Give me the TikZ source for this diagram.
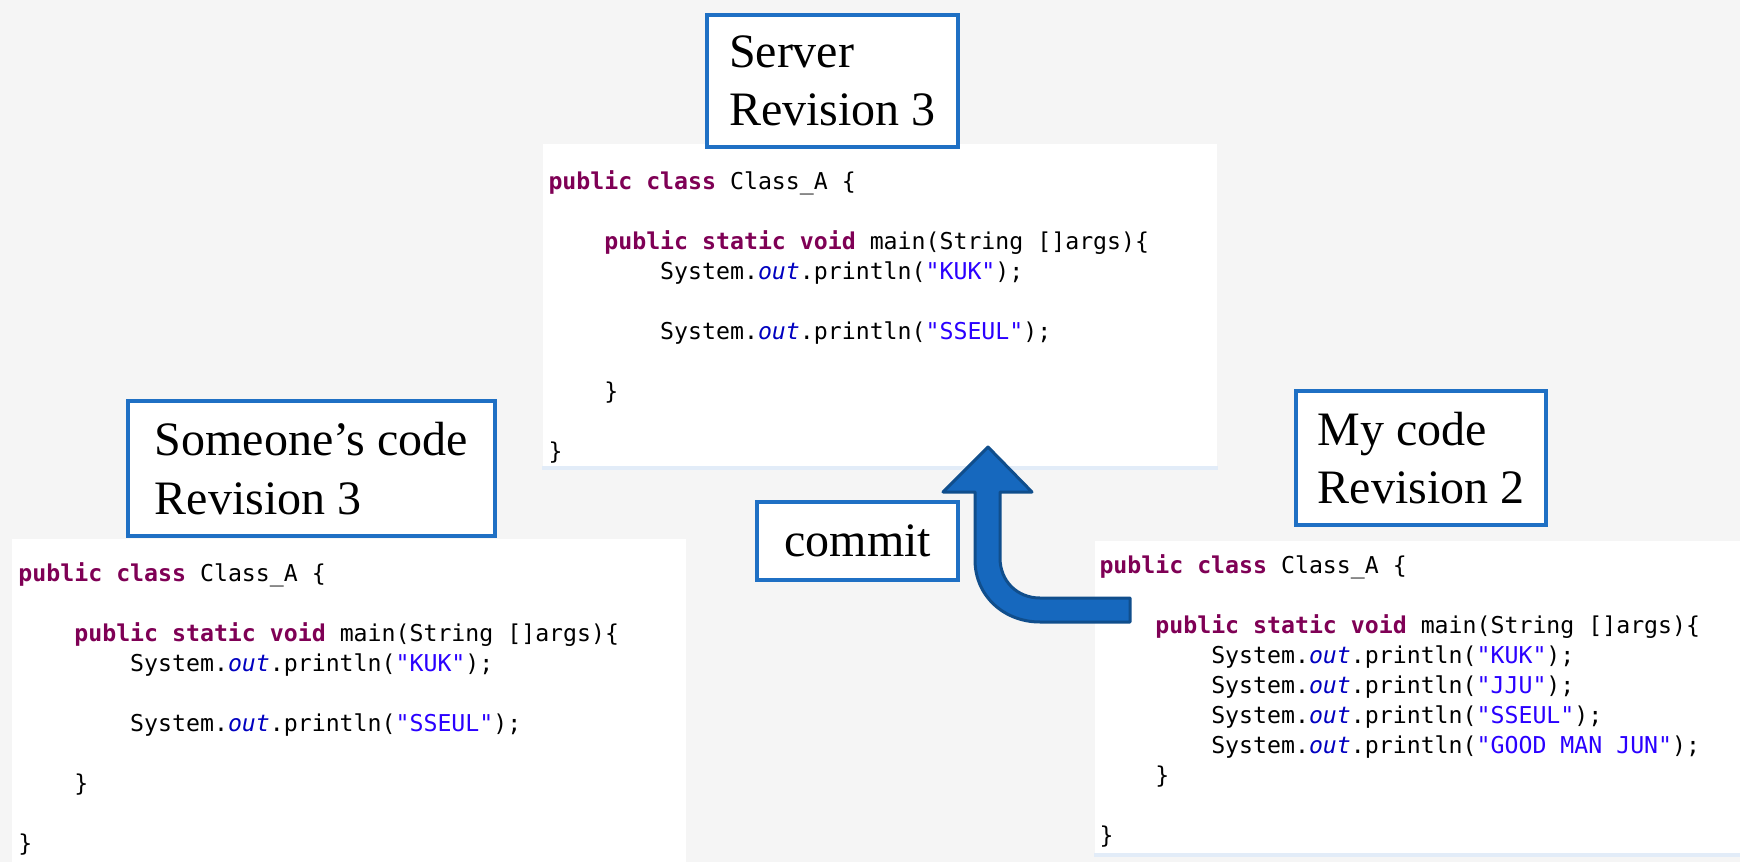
\documentclass[tikz,border=0pt]{standalone}
\usepackage{fontspec}
\newfontfamily\codefont{DejaVu Sans Mono}
\newfontfamily\labelfont{Liberation Serif}
\tikzset{every picture/.style={line width=0.75pt}}

\definecolor{boxblue}{RGB}{31,112,196}
\definecolor{arrowfill}{RGB}{22,104,190}
\definecolor{arrowedge}{RGB}{16,78,140}
\definecolor{kwpurple}{RGB}{127,0,85}
\definecolor{strblue}{RGB}{42,0,255}
\definecolor{fieldblue}{RGB}{0,0,192}
\definecolor{bggray}{RGB}{245,245,245}
\definecolor{rulelight}{RGB}{226,236,248}

\newcommand{\jkw}[1]{\textcolor{kwpurple}{\bfseries #1}}
\newcommand{\jstr}[1]{\textcolor{strblue}{#1}}
\newcommand{\jout}{\textcolor{fieldblue}{\itshape out}}
\newcommand{\jind}{\hspace*{41.9pt}}

\tikzset{
  labelbox/.style={draw=boxblue, line width=3pt, fill=white, align=left, inner xsep=11pt, font=\labelfont\fontsize{36}{44}\selectfont},
  panel/.style={fill=white, inner sep=0pt, anchor=north west},
  codetext/.style={anchor=north west, inner sep=0pt, align=left, font=\codefont\fontsize{17.4}{22.5}\selectfont},
  panelrule/.style={draw=rulelight, line width=3pt},
  commitarrow/.style={fill=arrowfill, draw=arrowedge, line width=2.25pt, line join=round}
}

\begin{document}
\begin{tikzpicture}[x=0.75pt,y=0.75pt,yscale=-1,xscale=1]
\useasboundingbox (0,0) rectangle (1740,862);
\fill[bggray] (0,0) rectangle (1740,862);

%Server panel
\node[panel, minimum width=506pt, minimum height=244pt] (srvpanel) at (542,144) {};
\draw[panelrule] ([yshift=-1.5pt]srvpanel.south west) -- ([yshift=-1.5pt]srvpanel.south east);
\node[codetext] (srvcode) at (548,170) {\jkw{public class} Class\_A \{\\
\mbox{}\\
\jind\jkw{public static void} main(String []args)\{\\
\jind\jind System.\jout.println(\jstr{"KUK"});\\
\mbox{}\\
\jind\jind System.\jout.println(\jstr{"SSEUL"});\\
\mbox{}\\
\jind\}\\
\mbox{}\\
\}};
% Text Node
\node[labelbox, anchor=north west, minimum width=188pt, minimum height=99pt] (server) at (705,13) {Server\\Revision 3};

%Someone's panel
\node[panel, minimum width=506pt, minimum height=243pt] (otherpanel) at (11,538) {};
\draw[panelrule] ([yshift=1pt]otherpanel.south west) -- ([yshift=1pt]otherpanel.south east);
\node[codetext] (othercode) at (18,562) {\jkw{public class} Class\_A \{\\
\mbox{}\\
\jind\jkw{public static void} main(String []args)\{\\
\jind\jind System.\jout.println(\jstr{"KUK"});\\
\mbox{}\\
\jind\jind System.\jout.println(\jstr{"SSEUL"});\\
\mbox{}\\
\jind\}\\
\mbox{}\\
\}};
% Text Node
\node[labelbox, anchor=north west, minimum width=275pt, minimum height=101pt] (other) at (126,399) {Someone’s code\\Revision 3};

%My panel
\node[panel, minimum width=485pt, minimum height=237pt] (mypanel) at (1094,540) {};
\draw[panelrule] ([yshift=-1.5pt]mypanel.south west) -- ([yshift=-1.5pt]mypanel.south east);
\node[codetext] (mycode) at (1099,554) {\jkw{public class} Class\_A \{\\
\mbox{}\\
\jind\jkw{public static void} main(String []args)\{\\
\jind\jind System.\jout.println(\jstr{"KUK"});\\
\jind\jind System.\jout.println(\jstr{"JJU"});\\
\jind\jind System.\jout.println(\jstr{"SSEUL"});\\
\jind\jind System.\jout.println(\jstr{"GOOD MAN JUN"});\\
\jind\}\\
\mbox{}\\
\}};
% Text Node
\node[labelbox, anchor=north west, minimum width=187.5pt, minimum height=100.5pt] (mine) at (1294,389) {My code\\Revision 2};

% Text Node
\node[labelbox, anchor=north west, minimum width=151pt, minimum height=58.5pt] (commit) at (755,500) {commit};

%Block arrow
\coordinate (tip) at (988,447);
\coordinate (tail) at (1130,610);
\filldraw[commitarrow] (1130,598) -- (1040,598) .. controls (1017,598) and (1000,581) .. (1000,558) -- (1000,492) -- (1032,492) -- (tip) -- (943,492) -- (975,492) -- (975,560) .. controls (975,596) and (1004,622) .. (1040,622) -- (1130,622) -- cycle;

\end{tikzpicture}
\end{document}
